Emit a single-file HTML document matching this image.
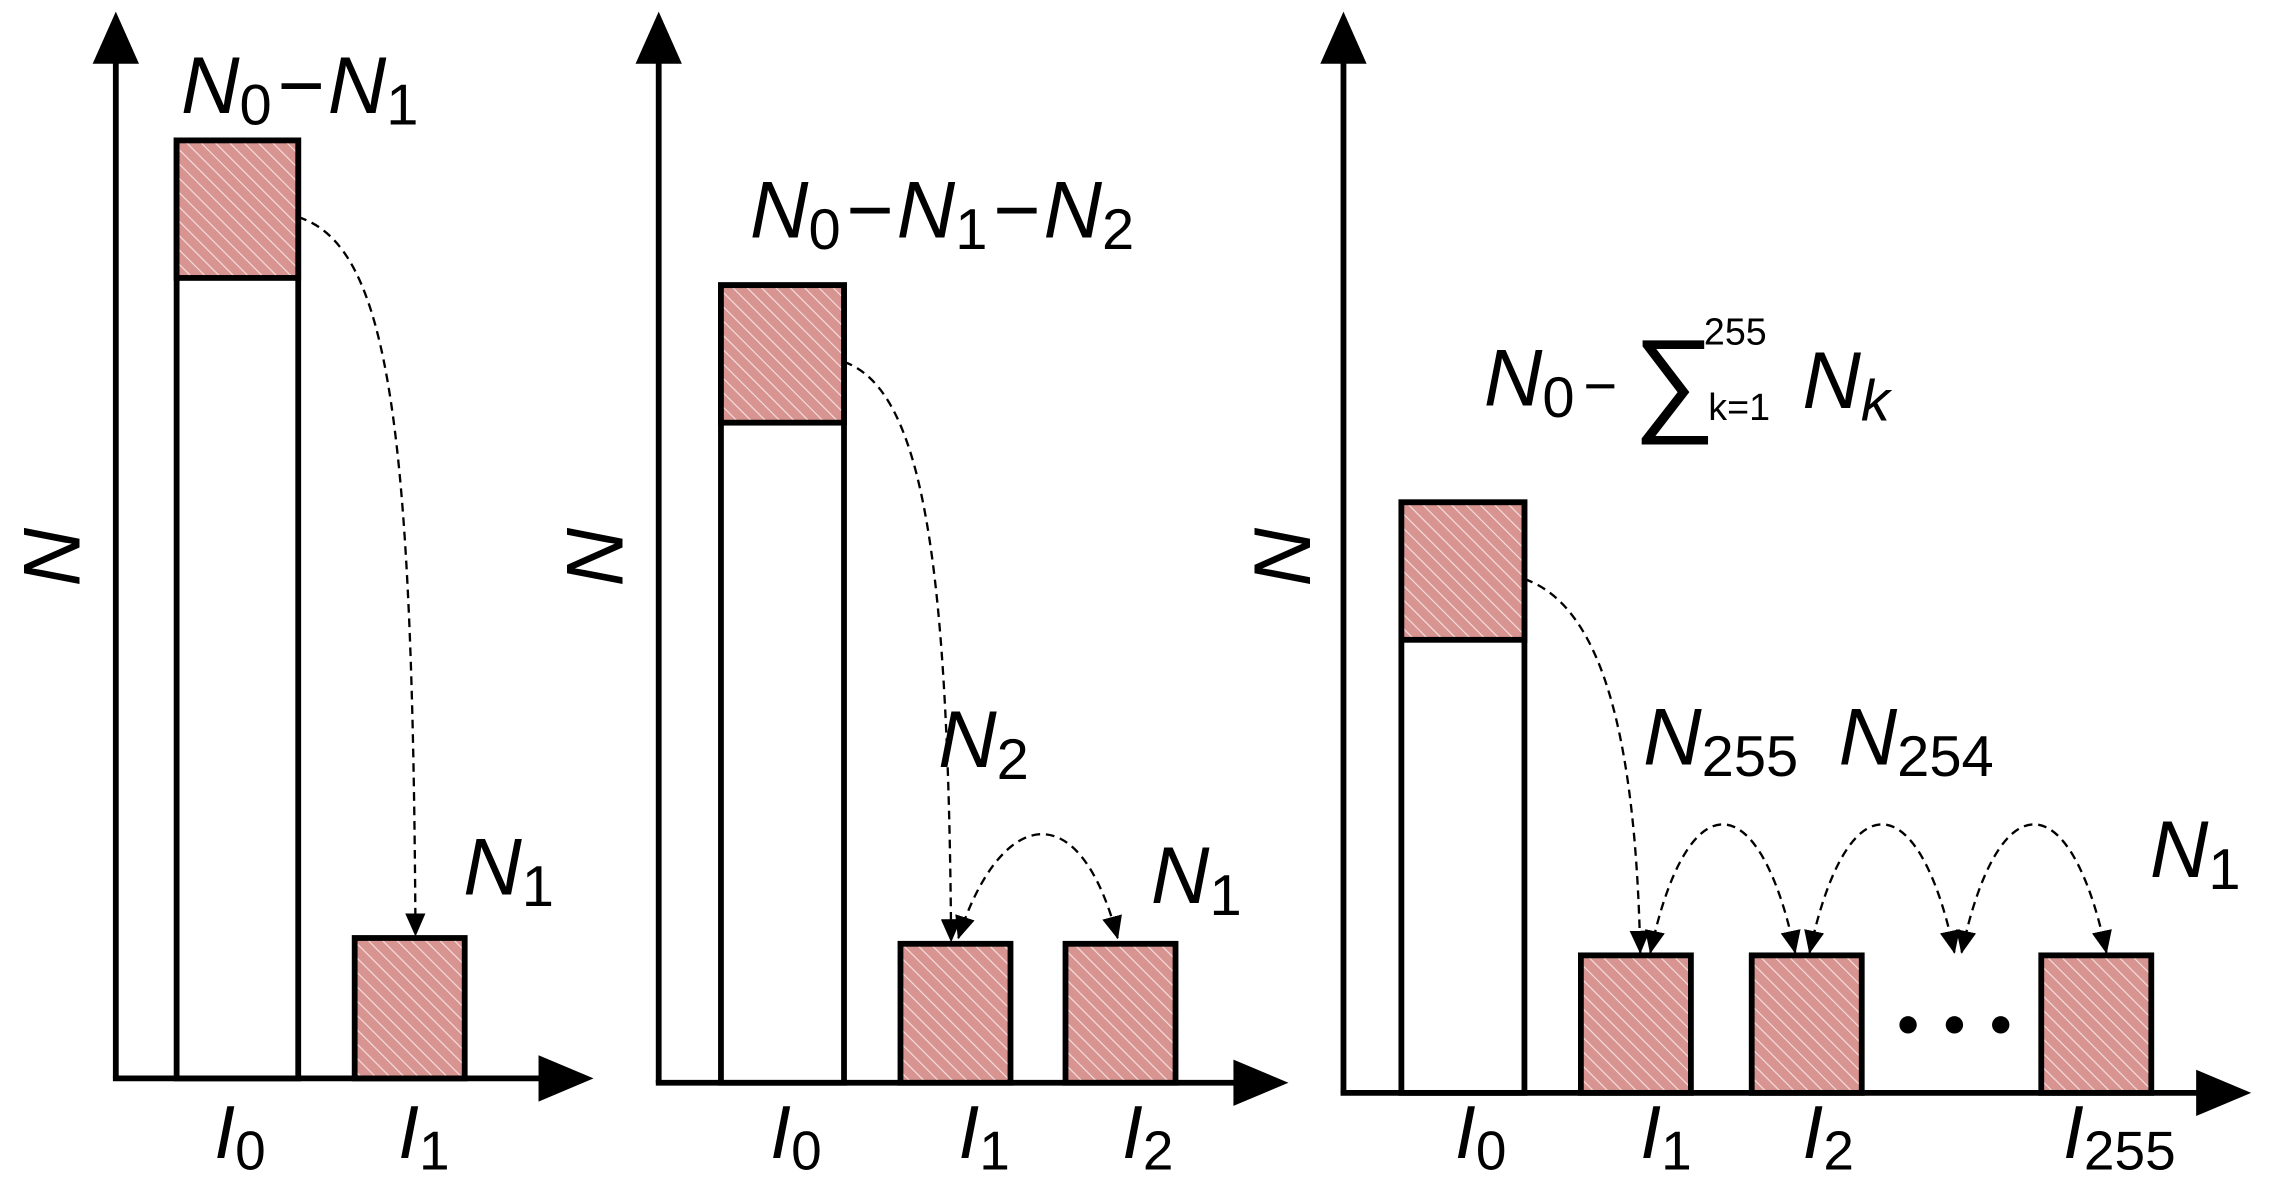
<!DOCTYPE html>
<html><head><meta charset="utf-8"><style>
html,body{margin:0;padding:0;background:#fff;}
svg{display:block;}
text{font-family:"Liberation Sans",Arial,sans-serif;fill:#000;}
.it{font-style:italic;}
</style></head><body>
<svg width="2270" height="1200" viewBox="0 0 1568 829" preserveAspectRatio="none" xmlns="http://www.w3.org/2000/svg">
<defs>
<pattern id="h" patternUnits="userSpaceOnUse" width="7" height="7" patternTransform="rotate(-45)">
<rect width="7" height="7" fill="#d79490"/>
<line x1="0" y1="0" x2="0" y2="7" stroke="#f6e0df" stroke-width="1.6"/>
</pattern>
<marker id="as" markerWidth="16" markerHeight="16" refX="15" refY="8" orient="auto-start-reverse" markerUnits="userSpaceOnUse" viewBox="0 0 16 16">
<path d="M0,1 L16,8 L0,15 z" fill="#000"/>
</marker>
</defs>
<g stroke="#000" stroke-width="4" fill="none">
<line x1="80" y1="745" x2="80" y2="40"/>
<line x1="78" y1="745" x2="390" y2="745"/>
<line x1="455" y1="748" x2="455" y2="40"/>
<line x1="453" y1="748" x2="870" y2="748"/>
<line x1="928" y1="755" x2="928" y2="40"/>
<line x1="926" y1="755" x2="1535" y2="755"/>
</g>
<g fill="#000">
<path d="M64,44 L80,8 L96,44 z"/>
<path d="M372,729 L410,745 L372,761 z"/>
<path d="M439,44 L455,8 L471,44 z"/>
<path d="M852,732 L890,748 L852,764 z"/>
<path d="M912,44 L928,8 L944,44 z"/>
<path d="M1517,739 L1555,755 L1517,771 z"/>
</g>
<g stroke="#000" stroke-width="4">
<rect x="122" y="97" width="84" height="648" fill="#fff"/>
<rect x="122" y="97" width="84" height="95" fill="url(#h)"/>
<rect x="245" y="648" width="76" height="97" fill="url(#h)"/>
<rect x="498" y="197" width="85" height="551" fill="#fff"/>
<rect x="498" y="197" width="85" height="95" fill="url(#h)"/>
<rect x="622" y="652" width="76" height="96" fill="url(#h)"/>
<rect x="736" y="652" width="76" height="96" fill="url(#h)"/>
<rect x="968" y="347" width="85" height="408" fill="#fff"/>
<rect x="968" y="347" width="85" height="95" fill="url(#h)"/>
<rect x="1092" y="660" width="76" height="95" fill="url(#h)"/>
<rect x="1210" y="660" width="76" height="95" fill="url(#h)"/>
<rect x="1410" y="660" width="76" height="95" fill="url(#h)"/>
</g>
<g stroke="#000" stroke-width="1.6" stroke-dasharray="6,4" fill="none" marker-end="url(#as)">
<path d="M206,150 C270,170 285,300 287,646"/>
<path d="M583,250 C640,270 655,400 657,650"/>
<path d="M1053,400 C1110,420 1130,520 1133,658"/>
</g>
<g stroke="#000" stroke-width="1.6" stroke-dasharray="6,4" fill="none" marker-start="url(#as)" marker-end="url(#as)">
<path d="M662,648 C690,560 745,545 772,648"/>
<path d="M1140,658 C1165,540 1215,540 1240,658"/>
<path d="M1250,658 C1275,540 1325,540 1350,658"/>
<path d="M1355,658 C1380,540 1430,540 1455,658"/>
</g>
<g fill="#000"><circle cx="1318" cy="708" r="6"/><circle cx="1350" cy="708" r="6"/><circle cx="1382" cy="708" r="6"/></g>
<g font-size="56">
<text x="125" y="78"><tspan class="it">N</tspan><tspan font-size="40" dy="8">0</tspan><tspan dx="4" dy="-8">−</tspan><tspan class="it" dx="2">N</tspan><tspan font-size="40" dy="8">1</tspan></text>
<text x="320" y="618"><tspan class="it">N</tspan><tspan font-size="40" dy="8">1</tspan></text>
<text x="518" y="164"><tspan class="it">N</tspan><tspan font-size="40" dy="8">0</tspan><tspan dx="4" dy="-8">−</tspan><tspan class="it" dx="2">N</tspan><tspan font-size="40" dy="8">1</tspan><tspan dx="4" dy="-8">−</tspan><tspan class="it" dx="2">N</tspan><tspan font-size="40" dy="8">2</tspan></text>
<text x="648" y="530"><tspan class="it">N</tspan><tspan font-size="40" dy="8">2</tspan></text>
<text x="795" y="624"><tspan class="it">N</tspan><tspan font-size="40" dy="8">1</tspan></text>
<text x="1025" y="280"><tspan class="it">N</tspan><tspan font-size="40" dy="8">0</tspan><tspan dx="6" font-size="40" dy="-8">−</tspan></text>
<text x="1128" y="290" font-size="80">∑</text>
<text x="1177" y="238" font-size="26">255</text>
<text x="1180" y="290" font-size="26">k=1</text>
<text x="1245" y="282" class="it">N<tspan font-size="40" dy="8">k</tspan></text>
<text x="1135" y="528"><tspan class="it">N</tspan><tspan font-size="40" dy="8">255</tspan></text>
<text x="1270" y="528"><tspan class="it">N</tspan><tspan font-size="40" dy="8">254</tspan></text>
<text x="1485" y="606"><tspan class="it">N</tspan><tspan font-size="40" dy="8">1</tspan></text>
</g>
<g font-size="52" class="it">
<text x="148" y="800">I<tspan font-size="38" font-style="normal" dy="8">0</tspan></text>
<text x="275" y="800">I<tspan font-size="38" font-style="normal" dy="8">1</tspan></text>
<text x="532" y="800">I<tspan font-size="38" font-style="normal" dy="8">0</tspan></text>
<text x="662" y="800">I<tspan font-size="38" font-style="normal" dy="8">1</tspan></text>
<text x="775" y="800">I<tspan font-size="38" font-style="normal" dy="8">2</tspan></text>
<text x="1005" y="800">I<tspan font-size="38" font-style="normal" dy="8">0</tspan></text>
<text x="1133" y="800">I<tspan font-size="38" font-style="normal" dy="8">1</tspan></text>
<text x="1245" y="800">I<tspan font-size="38" font-style="normal" dy="8">2</tspan></text>
<text x="1425" y="800">I<tspan font-size="38" font-style="normal" dy="8">255</tspan></text>
</g>
<g font-size="56" class="it">
<text transform="translate(55,385) rotate(-90)" text-anchor="middle">N</text>
<text transform="translate(430,385) rotate(-90)" text-anchor="middle">N</text>
<text transform="translate(905,385) rotate(-90)" text-anchor="middle">N</text>
</g>
</svg>
</body></html>
